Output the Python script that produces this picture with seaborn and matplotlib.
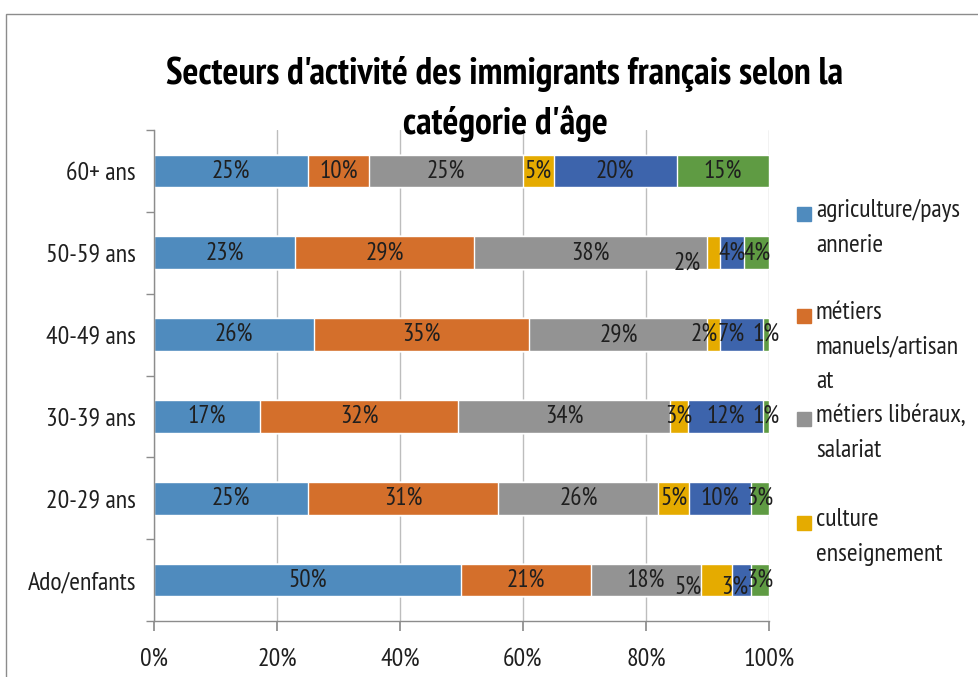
import matplotlib
matplotlib.use("Agg")
import matplotlib.pyplot as plt
from matplotlib.patches import Rectangle
from matplotlib.transforms import offset_copy
import numpy as np
import pandas as pd
import seaborn as sns

# Age groups (top to bottom) and activity sectors
ages = ["60+ ans", "50-59 ans", "40-49 ans", "30-39 ans", "20-29 ans", "Ado/enfants"]
sectors = [
    "agriculture/paysannerie",
    "métiers manuels/artisanat",
    "métiers libéraux, salariat",
    "culture enseignement",
    "commerce",
    "autre",
]
legend_labels = [
    "agriculture/pays\nannerie",
    "métiers\nmanuels/artisan\nat",
    "métiers libéraux,\nsalariat",
    "culture\nenseignement",
]
tick_labels = ["0%", "20%", "40%", "60%", "80%", "100%"]

# Share of each sector per age group (%)
agriculture = [25, 23, 26, 17, 25, 50]
manuels = [10, 29, 35, 32, 31, 21]
liberaux = [25, 38, 29, 34, 26, 18]
culture = [5, 2, 2, 3, 5, 5]
commerce = [20, 4, 7, 12, 10, 3]
autre = [15, 4, 1, 1, 3, 3]

colors = ["#4F8BBE", "#D46F2B", "#939393", "#E5AB00", "#3D64AC", "#5F9B43"]

# Small label nudges (pixels) where narrow segments crowd each other
nudges = {
    ("50-59 ans", "culture enseignement"): (-26, 10),
    ("40-49 ans", "culture enseignement"): (-9, 0),
    ("40-49 ans", "commerce"): (-10, 0),
    ("Ado/enfants", "culture enseignement"): (-29, 7),
    ("Ado/enfants", "commerce"): (-7, 7),
}

series = [agriculture, manuels, liberaux, culture, commerce, autre]
rows = []
for s, vals in zip(sectors, series):
    for a, v in zip(ages, vals):
        rows.append({"age": a, "secteur": s, "pct": v})
df = pd.DataFrame(rows)
df["secteur"] = pd.Categorical(df["secteur"], categories=sectors, ordered=True)
df["age"] = pd.Categorical(df["age"], categories=ages, ordered=True)
df = df.sort_values(["age", "secteur"])
df["share"] = df["pct"] / df.groupby("age", observed=True)["pct"].transform("sum")
df["right"] = df.groupby("age", observed=True)["share"].cumsum()
df["center"] = df["right"] - df["share"] / 2

sns.set_theme(style="white")
FONT = ["PT Sans Narrow", "DejaVu Sans"]
plt.rcParams["font.family"] = FONT

W, H = 979, 677
fig = plt.figure(figsize=(W / 100, H / 100), dpi=100)
ax = fig.add_axes([154 / W, 1 - 621 / H, (769 - 154) / W, (621 - 130) / H])

# Stacked bars: draw cumulative totals from the last sector back to the first
for s, c in reversed(list(zip(sectors, colors))):
    sub = df[df["secteur"] == s]
    sns.barplot(data=sub, x="right", y="age", order=ages, color=c,
                saturation=1, width=0.4, ax=ax, orient="h", zorder=2)

# Segment labels
for _, r in df.iterrows():
    dx, dy = nudges.get((r["age"], r["secteur"]), (0, 0))
    tr = offset_copy(ax.transData, fig=fig, x=dx, y=-dy, units="dots")
    ax.text(r["center"], ages.index(r["age"]), f"{r['pct']}%", transform=tr,
            ha="center", va="center", fontsize=18, color="#1F1F1F", zorder=3)

ax.set_xlim(0, 1)
ax.set_ylim(len(ages) - 0.5, -0.5)
ax.set_xlabel("")
ax.set_ylabel("")
ax.set_xticks(np.linspace(0, 1, 6))
ax.set_xticklabels(tick_labels)
ax.xaxis.grid(True, color="#BDBDBD", linewidth=1, zorder=0)
ax.yaxis.grid(False)
ax.set_axisbelow(True)

for side in ["top", "right"]:
    ax.spines[side].set_visible(False)
for side in ["left", "bottom"]:
    ax.spines[side].set_color("#8C8C8C")
    ax.spines[side].set_linewidth(1)

ax.set_yticks(np.arange(len(ages)))
ax.set_yticks(np.arange(len(ages) + 1) - 0.5, minor=True)
ax.tick_params(axis="y", which="major", length=0, pad=13, labelsize=18.5, labelcolor="#1F1F1F")
ax.tick_params(axis="y", which="minor", length=6, color="#8C8C8C", direction="out", left=True)
ax.tick_params(axis="x", which="major", length=7, color="#8C8C8C", direction="out",
               bottom=True, pad=12, labelsize=18.5, labelcolor="#1F1F1F")

# Title
fig.text(505 / W, 1 - 99 / H, "Secteurs d'activité des immigrants français selon la\ncatégorie d'âge",
         ha="center", va="center", fontsize=27, fontweight="bold", color="#000000",
         linespacing=1.45)

# Legend (first entries)
ys = [214, 316, 419, 523]
for lab, c, y in zip(legend_labels, colors, ys):
    fig.patches.append(Rectangle((797 / W, 1 - (y + 7) / H), 14 / W, 14 / H,
                                 transform=fig.transFigure, color=c))
    fig.text(816 / W, 1 - (y - 15) / H, lab, ha="left", va="top", fontsize=18.5,
             color="#1F1F1F", linespacing=1.65)

# Chart border
fig.patches.append(Rectangle((6 / W, -0.1), 1.2, 1 - 14 / H + 0.1,
                             transform=fig.transFigure, fill=False,
                             edgecolor="#8C8C8C", linewidth=1))

fig.savefig("out.png", dpi=100)
